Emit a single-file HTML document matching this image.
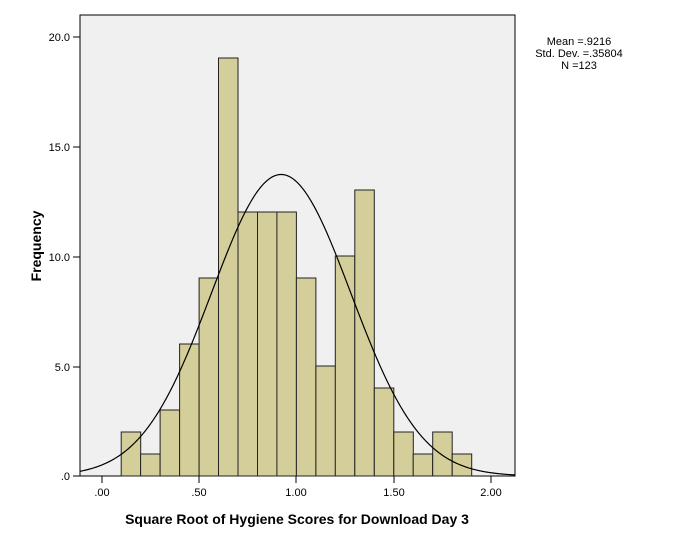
<!DOCTYPE html>
<html><head><meta charset="utf-8"><style>
body{margin:0;background:#fff;}
svg{display:block;font-family:"Liberation Sans",Arial,sans-serif;}
</style></head><body>
<svg id="s" width="685" height="547" xmlns="http://www.w3.org/2000/svg">
<rect x="80" y="15" width="435" height="461" fill="#f0f0f0" stroke="#000" stroke-width="1"/>
<g id="bars"></g>
<path id="curve" fill="none" stroke="#000" stroke-width="1.2"/>
<g font-size="11" fill="#000" text-anchor="end">
<text x="70" y="41">20.0</text><line x1="73" y1="37" x2="80" y2="37" stroke="#000"/>
<text x="70" y="151">15.0</text><line x1="73" y1="147" x2="80" y2="147" stroke="#000"/>
<text x="70" y="261">10.0</text><line x1="73" y1="257" x2="80" y2="257" stroke="#000"/>
<text x="70" y="371">5.0</text><line x1="73" y1="367" x2="80" y2="367" stroke="#000"/>
<text x="70" y="480">.0</text><line x1="73" y1="476" x2="80" y2="476" stroke="#000"/>
</g>
<g font-size="11" fill="#000" text-anchor="middle">
<text x="102" y="496">.00</text><line x1="102" y1="476" x2="102" y2="483" stroke="#000"/>
<text x="199" y="496">.50</text><line x1="199" y1="476" x2="199" y2="483" stroke="#000"/>
<text x="296" y="496">1.00</text><line x1="296" y1="476" x2="296" y2="483" stroke="#000"/>
<text x="394" y="496">1.50</text><line x1="394" y1="476" x2="394" y2="483" stroke="#000"/>
<text x="491" y="496">2.00</text><line x1="491" y1="476" x2="491" y2="483" stroke="#000"/>
</g>
<text x="297" y="524" font-size="14" font-weight="bold" text-anchor="middle">Square Root of Hygiene Scores for Download Day 3</text>
<text transform="translate(41,246) rotate(-90)" font-size="14" font-weight="bold" text-anchor="middle">Frequency</text>
<g font-size="11" text-anchor="middle">
<text x="579" y="45">Mean =.9216</text>
<text x="579" y="57">Std. Dev. =.35804</text>
<text x="579" y="69">N =123</text>
</g>
</svg>
<script>
var c=[2,1,3,6,9,19,12,12,12,9,5,10,13,4,2,1,2,1];
function X(v){return 101.7+194.7*v;}function Y(f){return 476-22*f;}
var g=document.getElementById('bars'),h='';
for(var i=0;i<c.length;i++){var a=X(0.1+i*0.1),b=X(0.2+i*0.1);
h+='<rect x="'+a.toFixed(1)+'" y="'+Y(c[i])+'" width="'+(b-a).toFixed(1)+'" height="'+(22*c[i])+'" fill="#d3ce9a" stroke="#222" stroke-width="1"/>';}
g.innerHTML=h;
var m=.9216,s=.35804,d='';
for(var px=80;px<=515;px+=1){var v=(px-101.7)/194.7;var f=12.3/(s*Math.sqrt(2*Math.PI))*Math.exp(-0.5*Math.pow((v-m)/s,2));
d+=(px==80?'M':'L')+px+','+Y(f).toFixed(2);}
document.getElementById('curve').setAttribute('d',d);
</script>
</body></html>
